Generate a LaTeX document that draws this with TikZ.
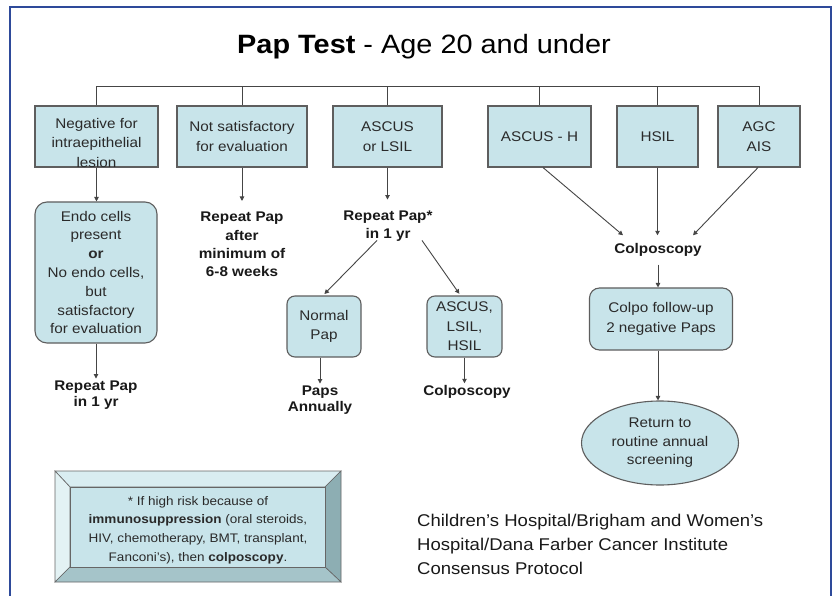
\documentclass[tikz,border=0pt]{standalone}
\usepackage{fontspec}
\setmainfont[FakeStretch=1.09]{Liberation Sans}
\usetikzlibrary{arrows.meta,shapes.geometric}
\definecolor{frameblue}{HTML}{2E4A9A}
\definecolor{boxfill}{HTML}{C8E4EA}
\definecolor{boxline}{HTML}{5E5E5E}
\definecolor{linec}{HTML}{454545}
\definecolor{txtc}{HTML}{2A2A2A}
\definecolor{bevtop}{HTML}{D9EDF1}
\definecolor{bevleft}{HTML}{E3F2F4}
\definecolor{bevright}{HTML}{8DAEB3}
\definecolor{bevbot}{HTML}{A5C4C9}
\tikzset{
  box/.style={draw=boxline, line width=1.1pt, fill=boxfill, inner sep=0pt,
    align=center, text=txtc, font=\fontsize{14}{20}\selectfont},
  rbox/.style={box, rounded corners=9pt},
  btxt/.style={align=center, text=black!90, inner sep=2pt,
    font=\bfseries\fontsize{14}{16.5}\selectfont},
  ptxt/.style={align=center, text=txtc, inner sep=0pt},
  conn/.style={draw=linec, line width=0.9pt},
  arr/.style={conn, -{Triangle[length=4.5pt,width=4.5pt]}},
}
\begin{document}
\begin{tikzpicture}[x=1pt,y=-1pt]
\useasboundingbox (0,0) rectangle (833,596);
\fill[white] (0,0) rectangle (833,596);
% frame
\draw[frameblue, line width=2.6pt] (10,600) -- (10,7) -- (831,7) -- (831,600);

% title
\node[anchor=base, text=black, inner sep=0pt, font=\fontsize{26.5}{30}\selectfont] (title) at (424,54)
  {\textbf{Pap Test} - Age 20 and under};

% top row boxes
\node[box, minimum width=123pt, minimum height=61pt] (b1) at (96.5,136.5) {};
\node[ptxt, font=\fontsize{14}{19.5}\selectfont] (b1t) at (96.5,142.5) {Negative for\\intraepithelial\\lesion};
\node[box, minimum width=130pt, minimum height=61pt] (b2) at (242,136.5) {Not satisfactory\\for evaluation};
\node[box, minimum width=109pt, minimum height=61pt] (b3) at (387.5,136.5) {ASCUS\\or LSIL};
\node[box, minimum width=103pt, minimum height=61pt] (b4) at (539.5,136.5) {ASCUS - H};
\node[box, minimum width=81pt, minimum height=61pt] (b5) at (657.5,136.5) {HSIL};
\node[box, minimum width=82pt, minimum height=61pt] (b6) at (759,136.5) {AGC\\AIS};

% bus
\coordinate (busL) at (96.5,86);
\coordinate (busR) at (759,86);
\draw[conn] (busL) -- (busR);
\foreach \b in {b1,b2,b3,b4,b5,b6} \draw[conn] (\b.north) -- (\b.north |- busL);

% left column
\node[rbox, rounded corners=12pt, minimum width=122pt, minimum height=141pt,
  font=\fontsize{14}{18.8}\selectfont] (endo) at (96,272.5)
  {Endo cells\\present\\\textbf{or}\\No endo cells,\\but\\satisfactory\\for evaluation};
\node[btxt, font=\bfseries\fontsize{14}{16}\selectfont] (rp1) at (96,395) {Repeat Pap\\in 1 yr};
\draw[arr] (b1.south) -- (b1.south |- endo.north);
\draw[arr] (endo.south) -- (endo.south |- rp1.north);

% second column
\node[btxt, font=\bfseries\fontsize{14}{18.3}\selectfont] (rp2) at (242,244.5) {Repeat Pap\\after\\minimum of\\6-8 weeks};
\draw[arr, shorten >=9pt] (b2.south) -- (b2.south |- rp2.north);

% third column
\node[btxt, font=\bfseries\fontsize{14}{18}\selectfont] (rp3) at (388,226) {Repeat Pap*\\in 1 yr};
\draw[arr, shorten >=9pt] (b3.south) -- (b3.south |- rp3.north);
\node[rbox, rounded corners=8pt, minimum width=74pt, minimum height=61pt,
  font=\fontsize{14}{19}\selectfont] (np) at (324,326.5) {Normal\\Pap};
\node[rbox, rounded corners=8pt, minimum width=75pt, minimum height=61pt,
  font=\fontsize{14}{19.5}\selectfont] (ash) at (464.5,326.5) {ASCUS,\\LSIL,\\HSIL};
\draw[arr, shorten >=2pt] ([xshift=-11pt,yshift=3pt]rp3.south) -- ([xshift=-1pt]np.north);
\draw[arr, shorten >=2pt] ([xshift=34pt,yshift=3pt]rp3.south) -- ([xshift=-4pt]ash.north);
\node[btxt, font=\bfseries\fontsize{14}{16}\selectfont] (pa) at (320,400) {Paps\\Annually};
\node[btxt] (colp2) at (467,392) {Colposcopy};
\draw[arr] (np.south -| pa.north) -- (pa.north);
\draw[arr] (ash.south) -- (ash.south |- colp2.north);

% right part
\node[btxt, inner ysep=8pt] (colp1) at (658,250) {Colposcopy};
\draw[arr] ([xshift=3.5pt]b4.south) -- ([xshift=-35pt]colp1.north);
\draw[arr] (b5.south) -- (b5.south |- colp1.north);
\draw[arr] ([xshift=-1pt]b6.south) -- ([xshift=35pt]colp1.north);
\node[rbox, rounded corners=10pt, minimum width=143pt, minimum height=62pt,
  font=\fontsize{14}{20}\selectfont] (cf) at (661,319) {Colpo follow-up\\2 negative Paps};
\draw[arr] (colp1.south) -- (colp1.south |- cf.north);
\node[box, ellipse, minimum width=157pt, minimum height=84pt,
  font=\fontsize{14}{18.5}\selectfont] (ell) at (660,443) {Return to\\routine annual\\screening};
\draw[arr] (cf.south -| colp1) -- (ell.north -| colp1);

% footnote bevel box
\begin{scope}[draw=gray!80!black, line width=0.6pt]
  \filldraw[fill=bevtop] (55,471) -- (341,471) -- (325,487) -- (70,487) -- cycle;
  \filldraw[fill=bevleft] (55,471) -- (70,487) -- (70,567) -- (55,582) -- cycle;
  \filldraw[fill=bevright] (341,471) -- (341,582) -- (325,567) -- (325,487) -- cycle;
  \filldraw[fill=bevbot] (55,582) -- (341,582) -- (325,567) -- (70,567) -- cycle;
  \filldraw[fill=boxfill] (70,487) rectangle (325,567);
\end{scope}
\node[ptxt, text=txtc, font=\fontsize{12.4}{18.7}\selectfont] (note) at (198,530)
  {* If high risk because of\\\textbf{immunosuppression} (oral steroids,\\HIV, chemotherapy, BMT, transplant,\\Fanconi’s), then \textbf{colposcopy}.};

% credit
\node[anchor=west, align=left, inner sep=0pt, text=black!90, font=\fontsize{17}{24}\selectfont] (credit) at (417,544)
  {Children’s Hospital/Brigham and Women’s\\Hospital/Dana Farber Cancer Institute\\Consensus Protocol};
\end{tikzpicture}
\end{document}
